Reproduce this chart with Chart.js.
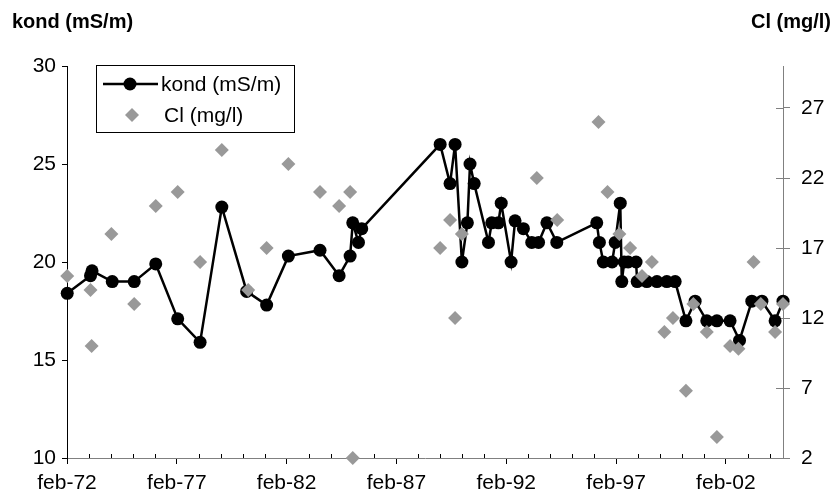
<!DOCTYPE html>
<html>
<head>
<meta charset="utf-8">
<script src="https://cdn.jsdelivr.net/npm/chart.js@4"></script>
<style>
  body { margin: 0; background: #fff; }
  #wrap { width: 835px; height: 499px; }
</style>
</head>
<body>
<div id="wrap"><canvas id="chart" width="835" height="499"></canvas></div>
<script>
// kond (mS/m), decimal year of each sample
const kondYears = [1972.09, 1973.15, 1973.22, 1974.14, 1975.14, 1976.12, 1977.12, 1978.14, 1979.13, 1980.26,
  1981.17, 1982.16, 1983.6, 1984.47, 1984.97, 1985.09, 1985.35, 1985.5, 1989.07, 1989.52,
  1989.75, 1990.06, 1990.31, 1990.43, 1990.62, 1991.27, 1991.42, 1991.72, 1991.85, 1992.3,
  1992.48, 1992.86, 1993.24, 1993.55, 1993.93, 1994.38, 1996.2, 1996.32, 1996.5, 1996.9,
  1997.04, 1997.27, 1997.34, 1997.45, 1997.63, 1997.99, 1998.04, 1998.48, 1998.94, 1999.39,
  1999.77, 2000.26, 2000.68, 2001.21, 2001.67, 2002.27, 2002.7, 2003.26, 2003.72, 2004.32, 2004.68];
const kondValues = [18.4, 19.3, 19.55, 19.0, 19.0, 19.9, 17.1, 15.9, 22.8, 18.5,
  17.8, 20.3, 20.6, 19.3, 20.3, 22.0, 21.0, 21.7, 26.0, 24.0,
  26.0, 20.0, 22.0, 25.0, 24.0, 21.0, 22.0, 22.0, 23.0, 20.0,
  22.1, 21.7, 21.0, 21.0, 22.0, 21.0, 22.0, 21.0, 20.0, 20.0,
  21.0, 23.0, 19.0, 20.0, 20.0, 20.0, 19.0, 19.0, 19.0, 19.0,
  19.0, 17.0, 18.0, 17.0, 17.0, 17.0, 16.0, 18.0, 18.0, 17.0, 18.0];

// Cl (mg/l)
const clYears = [1972.09, 1973.15, 1973.2, 1974.1, 1975.14, 1976.12, 1977.12, 1978.14, 1979.13, 1980.33,
  1981.17, 1982.16, 1983.6, 1984.47, 1984.97, 1985.09, 1989.07, 1989.52, 1989.75, 1990.06,
  1993.47, 1994.4, 1996.28, 1996.69, 1997.23, 1997.72, 1998.26, 1998.71, 1999.28, 1999.67,
  2000.26, 2000.6, 2001.21, 2001.67, 2002.27, 2002.65, 2003.34, 2003.67, 2004.32, 2004.68];
const clValues = [15, 14, 10, 18, 13, 20, 21, 16, 24, 14,
  17, 23, 21, 20, 21, 2, 17, 19, 12, 18,
  22, 19, 26, 21, 18, 17, 15, 16, 11, 12,
  6.8, 13, 11, 3.5, 10, 9.8, 16, 13, 11, 13];

// axes
const xStart = 1972.08;   // feb-72
const xEnd = 2004.68;
const majorYears = [1972.08, 1977.08, 1982.08, 1987.08, 1992.08, 1997.08, 2002.08];
const leftTicks = [10, 15, 20, 25, 30];
const rightTicks = [2, 7, 12, 17, 22, 27];

const FONT = "'Liberation Sans', Arial, sans-serif";
const axisGray = '#808080';

const toPoints = (xs, ys) => xs.map((x, i) => ({ x: x, y: ys[i] }));

// minor year ticks on x and inner half of right ticks
const extraTicks = {
  id: 'extraTicks',
  beforeDatasetsDraw(chart) {
    const ctx = chart.ctx;
    const xs = chart.scales.x, yr = chart.scales.y1;
    const area = chart.chartArea;
    ctx.save();
    ctx.strokeStyle = '#000';
    ctx.lineWidth = 1;
    ctx.beginPath();
    for (let y = Math.ceil(xStart); y <= xEnd; y++) {
      if ((y - 1972) % 5 === 0) continue;
      const px = Math.round(xs.getPixelForValue(y + 0.08)) + 0.5;
      ctx.moveTo(px, area.bottom);
      ctx.lineTo(px, area.bottom - 4);
    }
    ctx.stroke();
    ctx.strokeStyle = axisGray;
    ctx.beginPath();
    rightTicks.forEach(v => {
      const py = Math.round(yr.getPixelForValue(v)) + 0.5;
      ctx.moveTo(area.right, py);
      ctx.lineTo(area.right - 7, py);
    });
    ctx.stroke();
    ctx.restore();
  }
};

// axis titles above the plot
const topTitles = {
  id: 'topTitles',
  afterDraw(chart) {
    const ctx = chart.ctx;
    ctx.save();
    ctx.fillStyle = '#000';
    ctx.font = 'bold 20px ' + FONT;
    ctx.textBaseline = 'middle';
    ctx.textAlign = 'left';
    ctx.fillText('kond (mS/m)', 12, 22);
    ctx.textAlign = 'right';
    ctx.fillText('Cl (mg/l)', 831, 22);
    ctx.restore();
  }
};

// boxed legend inside the plot
const boxLegend = {
  id: 'boxLegend',
  afterDatasetsDraw(chart) {
    const ctx = chart.ctx;
    const ds = chart.data.datasets;
    ctx.save();
    ctx.fillStyle = '#fff';
    ctx.fillRect(96, 65, 198, 67);
    ctx.strokeStyle = '#000';
    ctx.lineWidth = 1;
    ctx.strokeRect(96.5, 65.5, 198, 67);

    ctx.lineWidth = 2.5;
    ctx.beginPath();
    ctx.moveTo(103, 84);
    ctx.lineTo(158, 84);
    ctx.stroke();
    ctx.fillStyle = '#000';
    ctx.beginPath();
    ctx.arc(130, 84, 6.5, 0, Math.PI * 2);
    ctx.fill();

    ctx.fillStyle = '#999999';
    ctx.beginPath();
    ctx.moveTo(132, 115 - 7);
    ctx.lineTo(132 + 7, 115);
    ctx.lineTo(132, 115 + 7);
    ctx.lineTo(132 - 7, 115);
    ctx.closePath();
    ctx.fill();

    ctx.fillStyle = '#000';
    ctx.font = '21px ' + FONT;
    ctx.textBaseline = 'middle';
    ctx.textAlign = 'left';
    ctx.fillText(ds[1].label, 161, 85);
    ctx.fillText(ds[0].label, 164, 116);
    ctx.restore();
  }
};

new Chart(document.getElementById('chart'), {
  data: {
    datasets: [
      {
        type: 'scatter',
        label: 'Cl (mg/l)',
        data: toPoints(clYears, clValues),
        yAxisID: 'y1',
        pointStyle: 'rectRot',
        pointRadius: 7,
        backgroundColor: '#999999',
        borderWidth: 0,
        order: 0,
        clip: false
      },
      {
        type: 'line',
        label: 'kond (mS/m)',
        data: toPoints(kondYears, kondValues),
        yAxisID: 'y',
        borderColor: '#000',
        borderWidth: 2.5,
        tension: 0,
        pointRadius: 6.5,
        pointBackgroundColor: '#000',
        pointBorderWidth: 0,
        order: 1,
        clip: false
      }
    ]
  },
  options: {
    responsive: false,
    animation: false,
    events: [],
    layout: { padding: { top: 66, left: 0, right: 0, bottom: 0 } },
    plugins: { legend: { display: false }, tooltip: { enabled: false } },
    scales: {
      x: {
        type: 'linear',
        position: 'bottom',
        min: xStart,
        max: xEnd,
        afterBuildTicks: s => { s.ticks = majorYears.map(v => ({ value: v })); },
        afterFit: s => { s.height = 41; },
        ticks: {
          color: '#000',
          font: { family: FONT, size: 21 },
          padding: 7,
          maxRotation: 0,
          autoSkip: false,
          callback: v => 'feb-' + String(Math.floor(v)).slice(-2)
        },
        grid: { drawOnChartArea: false, tickLength: 6, color: '#000' },
        border: { color: axisGray, width: 1 }
      },
      y: {
        position: 'left',
        min: 10,
        max: 30,
        afterBuildTicks: s => { s.ticks = leftTicks.map(v => ({ value: v })); },
        afterFit: s => { s.width = 67; },
        ticks: { color: '#000', font: { family: FONT, size: 21 }, padding: 6 },
        grid: { drawOnChartArea: false, tickLength: 5, color: '#000' },
        border: { color: '#000', width: 1 }
      },
      y1: {
        position: 'right',
        min: 2,
        max: 30,
        afterBuildTicks: s => { s.ticks = rightTicks.map(v => ({ value: v })); },
        afterFit: s => { s.width = 52; },
        ticks: { color: '#000', font: { family: FONT, size: 21 }, padding: 11 },
        grid: { drawOnChartArea: false, tickLength: 7, color: axisGray },
        border: { color: axisGray, width: 1 }
      }
    }
  },
  plugins: [extraTicks, topTitles, boxLegend]
});
</script>
</body>
</html>
